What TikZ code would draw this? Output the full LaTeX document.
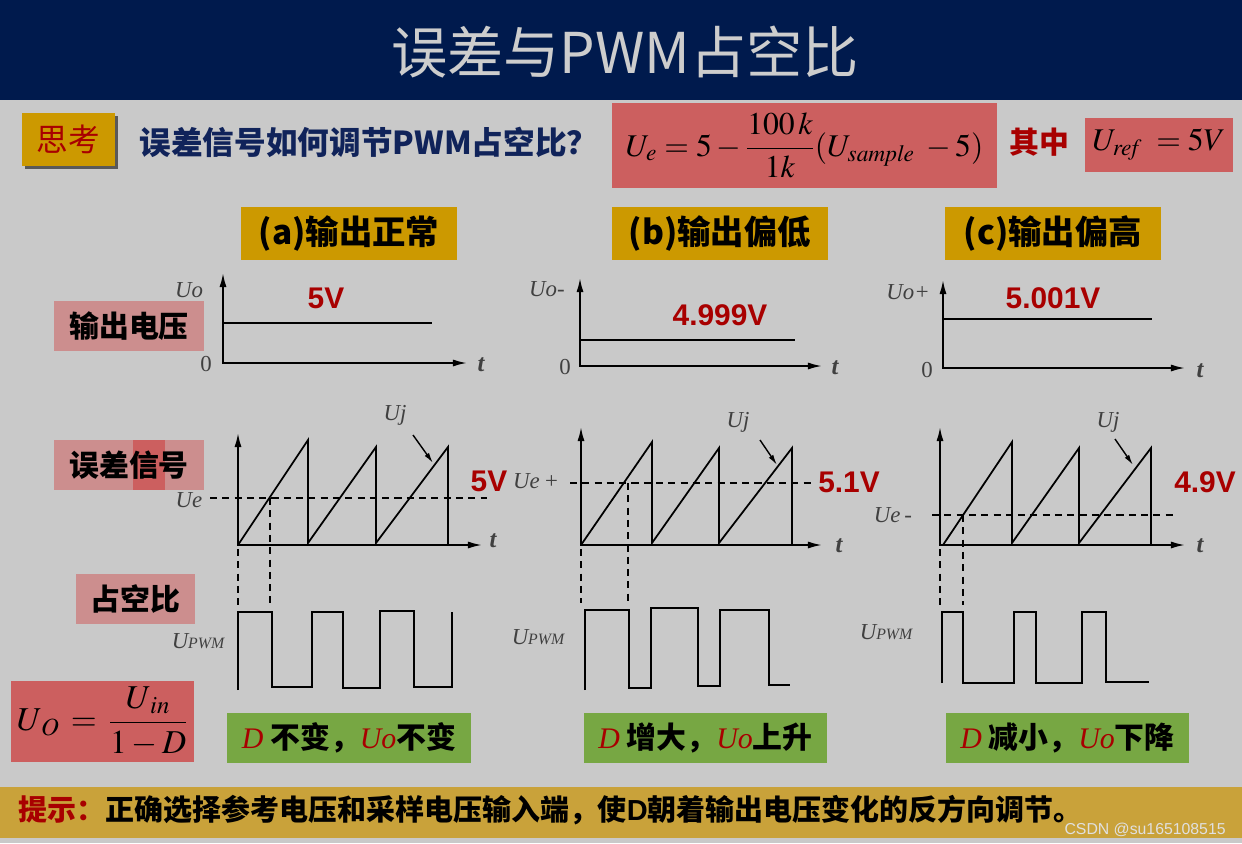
\documentclass[tikz,border=0pt]{standalone}
\usepackage{mathptmx}
\usepackage{fontspec}
\setmainfont{Liberation Serif}
\setsansfont{Liberation Sans}
\newfontfamily\cjk{Noto Sans CJK SC}
\usetikzlibrary{arrows.meta}

\definecolor{bg}{RGB}{201,201,201}
\definecolor{navy}{RGB}{0,26,77}
\definecolor{titlegrey}{RGB}{205,205,205}
\definecolor{gold}{RGB}{204,153,0}
\definecolor{pink}{RGB}{204,142,142}
\definecolor{rosered}{RGB}{204,95,95}
\definecolor{leaf}{RGB}{119,167,67}
\definecolor{bargold}{RGB}{201,162,58}
\definecolor{vred}{RGB}{168,0,0}
\definecolor{qnavy}{RGB}{16,35,90}

\newcommand{\fsz}[1]{\fontsize{#1}{#1}\selectfont}

\begin{document}
\begin{tikzpicture}[x=0.02cm, y=-0.02cm,
    heading/.style={font=\cjk\fsz{32}, text=titlegrey},
    goldbox/.style={rectangle, fill=gold, minimum width=4.32cm, minimum height=1.06cm, font=\cjk\bfseries\fsz{19}},
    pinkbox/.style={rectangle, fill=pink, minimum width=3cm, minimum height=1cm, font=\cjk\bfseries\fsz{17}},
    redbox/.style={rectangle, fill=rosered},
    greenbox/.style={rectangle, fill=leaf, minimum width=4.88cm, minimum height=1cm, font=\cjk\bfseries\fsz{17}},
    lbl/.style={font=\rmfamily\itshape\fsz{13}, text=black!75, inner sep=0pt},
    val/.style={font=\sffamily\bfseries\fsz{17}, text=vred, inner sep=0pt},
    axis/.style={line width=1pt, {Latex[length=8pt,width=4pt]}-{Latex[length=8pt,width=4pt]}},
    wave/.style={line width=1pt, line join=miter},
    guide/.style={line width=0.6pt, dash pattern=on 4pt off 3pt},
    pointer/.style={line width=0.8pt, -{Latex[length=6pt,width=3pt]}}
]
    \useasboundingbox (0,0) rectangle (1242,843);
    \fill[bg] (0,0) rectangle (1242,843);

    % title bar
    \fill[navy] (0,0) rectangle (1242,100);
    \node[heading] (title) at (625,52) {误差与PWM占空比};

    % question row
    \fill[black!65] (25,116) rectangle (118,169);
    \node[rectangle, fill=gold, minimum width=1.86cm, minimum height=1.06cm,
          font=\cjk\fsz{18}, text=vred] (think) at (68.5,139.5) {思考};
    \node[font=\cjk\bfseries\fsz{18}, text=qnavy] (question) at (369,142) {误差信号如何调节PWM占空比？};
    \node[redbox, minimum width=7.7cm, minimum height=1.7cm, font=\fsz{18}] (ue) at (804.5,145.5)
        {$U_{e} = 5-\displaystyle\frac{100\,k}{1k}(U_{\mathit{sample}}\;-5)$};
    \node[font=\cjk\bfseries\fsz{17}, text=vred] (qizhong) at (1039,142) {其中};
    \node[redbox, minimum width=2.96cm, minimum height=1.08cm, font=\fsz{18}] (uref) at (1159,145)
        {$U_{\mathit{ref}} \;= 5V$};

    % column headings
    \node[goldbox] (casea) at (349,233.5) {(a)输出正常};
    \node[goldbox] (caseb) at (720,233.5) {(b)输出偏低};
    \node[goldbox] (casec) at (1053,233.5) {(c)输出偏高};

    % row labels
    \node[pinkbox] (lblout) at (129,326) {输出电压};
    \node[pinkbox] (lblerr) at (129,465) {};
    \fill[rosered] (133,440) rectangle (165,490);
    \node[pinkbox, fill=none] at (lblerr) {误差信号};
    \node[pinkbox, minimum width=2.38cm] (lblduty) at (135.5,599) {占空比};
    \node[redbox, minimum width=3.66cm, minimum height=1.62cm, inner sep=1pt, font=\fsz{19}] (uo) at (102.5,721.5)
        {$U_{\,O}\,=\,\displaystyle\frac{U_{\,\mathit{in}}}{1-D}$};

    % (a) output voltage
    \coordinate (oa) at (223,363);
    \draw[axis] (oa) ++(0,-90) -- (oa) -- ++(244,0);
    \draw[wave] (223,323) -- (432,323);
    \node[lbl] at (189,290) {Uo};
    \node[lbl, font=\rmfamily\fsz{13}] at (206,364) {0};
    \node[lbl, font=\rmfamily\itshape\bfseries\fsz{14}] at (481,365) {t};
    \node[val] at (326,298) {5V};

    % (a) error signal
    \coordinate (ea) at (238,545);
    \draw[axis] (ea) ++(0,-112) -- (ea) -- ++(244,0);
    \node[lbl, font=\rmfamily\itshape\bfseries\fsz{14}] at (493,541) {t};
    \draw[wave] (ea) -- (308,440) -- (308,543) -- (376,447) -- (376,543) -- (448,447) -- (448,545);
    \draw[guide] (210,498) -- (487,498);
    \node[lbl] at (189,500) {Ue};
    \draw[guide] (238,549) -- (238,606);
    \draw[guide] (270,498) -- (270,606);
    \node[lbl] (uja) at (395,415) {Uj};
    \draw[pointer] (413,435) -- (433,463);
    \node[val] at (489,481) {5V};

    % (a) pwm
    \draw[wave] (238,690) -- (238,612) -- (272,612) -- (272,687) -- (312,687) -- (312,612) -- (343,612)
        -- (343,688) -- (380,688) -- (380,611) -- (414,611) -- (414,687) -- (452,687) -- (452,612);
    \node[lbl] at (198,641) {U{\fsz{9}PWM}};

    % (b) output voltage
    \coordinate (ob) at (580,366);
    \draw[axis] (ob) ++(0,-88) -- (ob) -- ++(242,0);
    \draw[wave] (580,340) -- (795,340);
    \node[lbl] at (547,289) {Uo-};
    \node[lbl, font=\rmfamily\fsz{13}] at (565,367) {0};
    \node[lbl, font=\rmfamily\itshape\bfseries\fsz{14}] at (835,368) {t};
    \node[val] at (720,315) {4.999V};

    % (b) error signal
    \coordinate (eb) at (581,545);
    \draw[axis] (eb) ++(0,-118) -- (eb) -- ++(241,0);
    \node[lbl, font=\rmfamily\itshape\bfseries\fsz{14}] at (839,546) {t};
    \draw[wave] (eb) -- (652,442) -- (652,543) -- (719,448) -- (719,543) -- (792,448) -- (792,545);
    \draw[guide] (570,483) -- (813,483);
    \node[lbl] at (536,481) {Ue\,+};
    \draw[guide] (581,549) -- (581,603);
    \draw[guide] (628,483) -- (628,605);
    \node[lbl] (ujb) at (738,422) {Uj};
    \draw[pointer] (760,440) -- (777,465);
    \node[val] at (849,482) {5.1V};

    % (b) pwm
    \draw[wave] (585,690) -- (585,610) -- (629,610) -- (629,688) -- (651,688) -- (651,608) -- (698,608)
        -- (698,686) -- (720,686) -- (720,610) -- (769,610) -- (769,685) -- (790,685);
    \node[lbl] at (538,637) {U{\fsz{9}PWM}};

    % (c) output voltage
    \coordinate (oc) at (943,368);
    \draw[axis] (oc) ++(0,-88) -- (oc) -- ++(242,0);
    \draw[wave] (943,319) -- (1152,319);
    \node[lbl] at (908,292) {Uo+};
    \node[lbl, font=\rmfamily\fsz{13}] at (927,370) {0};
    \node[lbl, font=\rmfamily\itshape\bfseries\fsz{14}] at (1200,371) {t};
    \node[val] at (1053,298) {5.001V};

    % (c) error signal
    \coordinate (ec) at (940,545);
    \draw[axis] (ec) ++(0,-118) -- (ec) -- ++(245,0);
    \node[lbl, font=\rmfamily\itshape\bfseries\fsz{14}] at (1200,546) {t};
    \draw[wave] (943,545) -- (1012,442) -- (1012,543) -- (1079,448) -- (1079,543) -- (1151,448) -- (1151,545);
    \draw[guide] (932,515) -- (1173,515);
    \node[lbl] at (893,515) {Ue\,-};
    \draw[guide] (940,549) -- (940,605);
    \draw[guide] (963,515) -- (963,605);
    \node[lbl] (ujc) at (1108,422) {Uj};
    \draw[pointer] (1115,439) -- (1133,465);
    \node[val] at (1205,482) {4.9V};

    % (c) pwm
    \draw[wave] (942,683) -- (942,612) -- (963,612) -- (963,683) -- (1014,683) -- (1014,612) -- (1036,612)
        -- (1036,683) -- (1082,683) -- (1082,612) -- (1106,612) -- (1106,682) -- (1149,682);
    \node[lbl] at (886,632) {U{\fsz{9}PWM}};

    % conclusions
    \node[greenbox] (resa) at (349,738) {{\color{vred}\rmfamily\mdseries\itshape D} 不变，{\color{vred}\rmfamily\mdseries\itshape Uo}不变};
    \node[greenbox] (resb) at (705.5,738) {{\color{vred}\rmfamily\mdseries\itshape D} 增大，{\color{vred}\rmfamily\mdseries\itshape Uo}上升};
    \node[greenbox] (resc) at (1067.5,738) {{\color{vred}\rmfamily\mdseries\itshape D} 减小，{\color{vred}\rmfamily\mdseries\itshape Uo}下降};

    % hint bar
    \fill[bargold] (0,787) rectangle (1242,838);
    \node[anchor=west, font=\cjk\bfseries\fsz{16.5}] (hint) at (12,810)
        {{\color{vred}提示：}正确选择参考电压和采样电压输入端，使{\sffamily\bfseries D}朝着输出电压变化的反方向调节。};
    \node[anchor=east, font=\sffamily\fsz{9}, text=white!88!black, inner sep=0pt] (mark) at (1226,830) {CSDN @su165108515};
\end{tikzpicture}
\end{document}
